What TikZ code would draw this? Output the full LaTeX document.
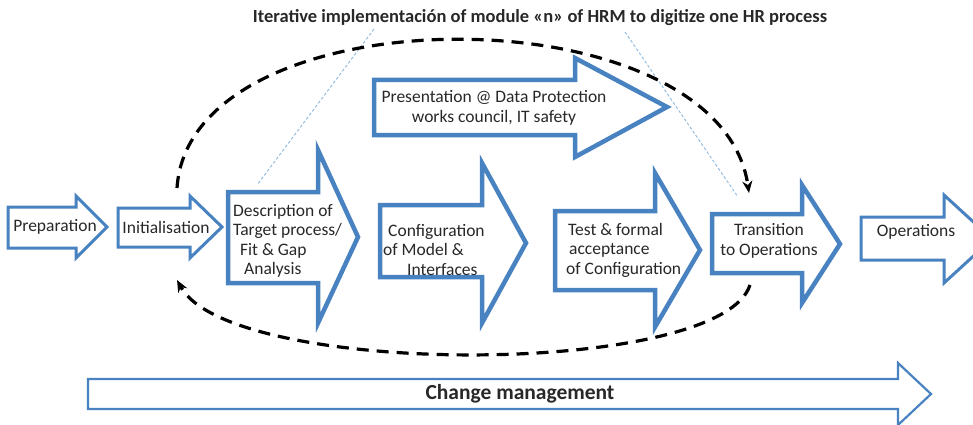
\documentclass[tikz,border=0pt]{standalone}
\usepackage{fontspec}
\setmainfont{Carlito}
\usetikzlibrary{arrows.meta}
\definecolor{arrblue}{RGB}{72,130,192}
\definecolor{dotblue}{RGB}{150,190,225}
\definecolor{txt}{RGB}{40,40,40}
% #1 style, #2 x0, #3 x1 (head base), #4 x2 (tip), #5 body top, #6 body bottom, #7 head top, #8 head bottom, #9 tip y
\newcommand{\blockarrow}[9]{%
  \draw[#1] (#2,#5) -- (#3,#5) -- (#3,#7) -- (#4,#9) -- (#3,#8) -- (#3,#6) -- (#2,#6) -- cycle;}
\begin{document}
\begin{tikzpicture}[x=1pt,y=-1pt,
  barrow/.style={draw=arrblue, fill=white, line width=4.5pt, line join=miter},
  larrow/.style={draw=arrblue, fill=white, line width=3pt, line join=miter},
  carrow/.style={draw=arrblue, fill=white, line width=2.2pt, line join=miter},
  lbl/.style={font=\fontsize{17.5}{19.5}\selectfont, text=txt, inner sep=0pt},
  boldlbl/.style={font=\bfseries\fontsize{18.5}{21}\selectfont, text=txt, inner sep=0pt},
  loop/.style={line width=3.2pt, dash pattern=on 12pt off 8pt, black},
  guide/.style={dotblue, line width=1pt, dash pattern=on 3pt off 2pt}]
\useasboundingbox (0,0) rectangle (973,425);

% thin guide lines
\coordinate (g1a) at (374,29);
\coordinate (g1b) at (257,185);
\coordinate (g2a) at (625,32);
\coordinate (g2b) at (738,197);
\draw[guide] (g1a) -- (g1b);
\draw[guide] (g2a) -- (g2b);

% block arrows
\blockarrow{larrow}{8}{76}{107}{207}{248}{196}{258}{227}
\blockarrow{larrow}{118}{190}{222}{208}{247}{196}{258}{227}
\blockarrow{barrow}{228}{318}{358}{192}{283}{150}{323}{237}
\blockarrow{barrow}{380}{482}{526}{205}{277}{163}{323}{243}
\blockarrow{barrow}{555}{655}{700}{211}{290}{173}{327}{250}
\blockarrow{barrow}{712}{802}{840}{214}{273}{185}{303}{244}
\blockarrow{larrow}{861}{944}{992}{217}{260}{195}{283}{239}
\blockarrow{barrow}{374}{575}{667}{80}{135}{58}{157}{107}
\blockarrow{carrow}{88}{898}{931}{379}{409}{363}{425}{394}

% labels
\node[boldlbl] (title) at (540,18) {Iterative implementación of module «n» of HRM to digitize one HR process};
\node[lbl] (prep) at (55,227) {Preparation};
\node[lbl] (init) at (166,227) {Initialisation};
\node[lbl, align=left, anchor=west] (desc) at (233,241) {Description of\\Target process/\\\hspace{7pt}Fit \& Gap\\\hspace{11pt}Analysis};
\node[lbl, align=left, anchor=west] (conf) at (383,250) {\hspace{5pt}Configuration\\of Model \&\\\hspace{24pt}Interfaces};
\node[lbl, align=left, anchor=west] (test) at (566,250) {\hspace{2pt}Test \& formal\\\hspace{3pt}acceptance\\of Configuration};
\node[lbl, align=center] (trans) at (769,241) {Transition\\to Operations};
\node[lbl] (ops) at (916,232) {Operations};
\node[lbl, align=center] (pres) at (494,108) {Presentation @ Data Protection\\works council, IT safety};
\node[boldlbl, font=\bfseries\fontsize{21.5}{24}\selectfont] (change) at (520,394) {Change management};

% iterative loop
\coordinate (ltop) at (177,188);
\coordinate (rtop) at (749,193);
\coordinate (rbot) at (750,285);
\coordinate (lbot) at (177,280);
\draw[loop, -{Stealth[length=12pt,width=10pt]}] (ltop) .. controls (190,-10) and (720,-10) .. (rtop);
\draw[loop, -{Stealth[length=12pt,width=10pt]}] (rbot) .. controls (720,378) and (230,378) .. (lbot);
\end{tikzpicture}
\end{document}
